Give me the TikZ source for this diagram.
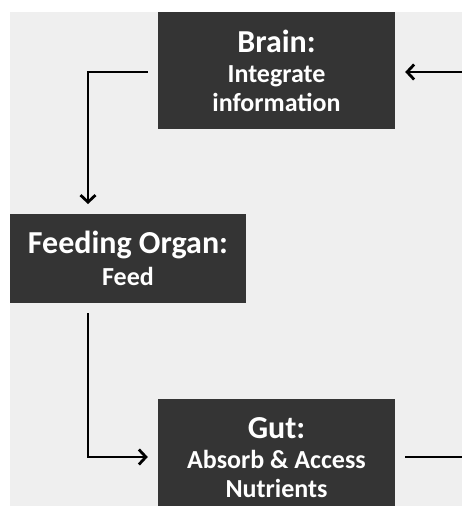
\documentclass[tikz,border=0pt]{standalone}
\usepackage{fontspec}
\setmainfont{Carlito}
\usetikzlibrary{arrows.meta}
\definecolor{bggray}{HTML}{EFEFEF}
\definecolor{boxgray}{HTML}{343434}
\newcommand{\ttlsize}{\fontsize{32}{34}\selectfont}
\begin{document}
\begin{tikzpicture}[x=1pt,y=-1pt,
  organ/.style={fill=boxgray, text=white, font=\fontsize{26}{29}\selectfont\bfseries, align=center,
    minimum width=237pt, inner sep=0pt},
  link/.style={line width=2.8pt, -{Straight Barb[length=7pt,width=15pt,line width=2.8pt]}},
  plain/.style={line width=2.8pt}]
\useasboundingbox (0,0) rectangle (462,506);
\fill[white] (0,0) rectangle (462,506);
\begin{scope}
\clip (10,12) rectangle (462,506);
\fill[bggray] (10,12) rectangle (462,506);
\node[organ, minimum height=117pt] (brain) at (276.5,70.5)
  {{\ttlsize Brain:}\\[1pt]Integrate\\information};
\node[organ, minimum height=89pt, minimum width=236pt] (feed) at (128,258.5)
  {{\ttlsize Feeding Organ:}\\[3pt]Feed};
\node[organ, minimum height=118pt] (gut) at (276.5,458)
  {{\ttlsize Gut:}\\[1pt]Absorb \& Access\\Nutrients};
\end{scope}
\coordinate (rin) at (462,72);
\coordinate (rout) at (462,457);
\draw[link, shorten >=10pt] (rin) -- (brain.east |- rin);
\draw[link, shorten <=10pt, shorten >=10pt] (brain.west |- rin) -| (88,214) coordinate (ftop);
\draw[link, shorten <=10pt, shorten >=10pt] (88,303) coordinate (fbot) |- (gut.west |- rout);
\draw[plain, shorten <=10pt] (gut.east |- rout) -- (rout);
\end{tikzpicture}
\end{document}
